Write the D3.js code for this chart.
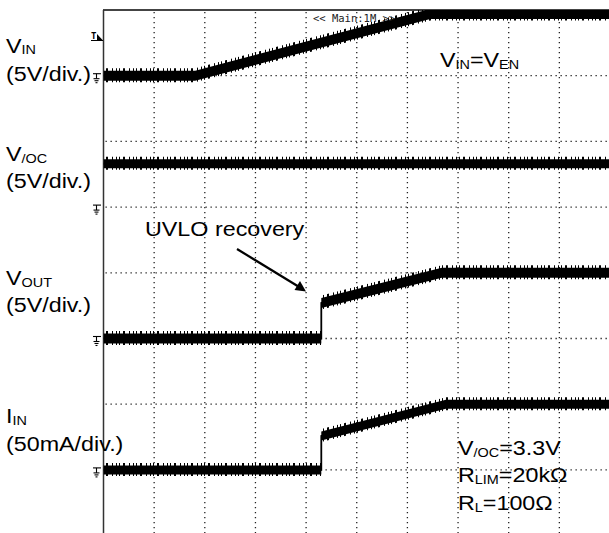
<!DOCTYPE html>
<html>
<head>
<meta charset="utf-8">
<script src="https://cdn.jsdelivr.net/npm/d3@7"></script>
<style>
  html, body { margin: 0; padding: 0; background: #fff; }
  svg { display: block; }
  text { font-family: "Liberation Sans", Arial, sans-serif; fill: #000; }
</style>
</head>
<body>
<svg id="chart" width="609" height="533"></svg>
<script>
// ---- data (time in divisions, values in channel units) ----
const vinT  = [0, 1.81, 6.45, 10];
const vinV  = [0, 0, 4.7, 4.7];          // V
const vocT  = [0, 10];
const vocV  = [3.3, 3.3];                // V
const voutT = [0, 4.30, 4.30, 6.68, 10];
const voutV = [0, 0, 2.7, 5.0, 5.0];     // V
const iinT  = [0, 4.30, 4.30, 6.76, 10];
const iinV  = [0, 0, 25.8, 50, 50];      // mA

const channelNames   = ["VIN", "VOC", "VOUT", "IIN"];
const channelPerDiv  = [5, 5, 5, 50];     // units per division
const channelOffset  = [7, 5, 3, 1];      // ground position in divisions from bottom
const xDivisions = 10, yDivisions = 8;

// ---- layout ----
const svg = d3.select("#chart");
const pLeft = 103.5, pRight = 610, pTop = 10, pBottom = 535.6;
const x = d3.scaleLinear().domain([0, xDivisions]).range([pLeft, pRight]);
const yDiv = d3.scaleLinear().domain([0, yDivisions]).range([pBottom, pTop]);

const defs = svg.append("defs");
defs.append("clipPath").attr("id", "screen")
  .append("rect").attr("x", pLeft).attr("y", pTop).attr("width", pRight - pLeft).attr("height", pBottom - pTop);
const pat = defs.append("pattern").attr("id", "spikes").attr("patternUnits", "userSpaceOnUse")
  .attr("width", 17).attr("height", 5);
[0, 4, 5, 10, 14].forEach(px => pat.append("rect").attr("x", px).attr("y", 0).attr("width", 1).attr("height", 5).attr("fill", "#000"));

// ---- grid ----
const grid = svg.append("g");
d3.range(1, xDivisions).forEach(i => {
  grid.append("line").attr("x1", x(i)).attr("x2", x(i)).attr("y1", pTop + 2).attr("y2", 533)
    .attr("stroke", "#222").attr("stroke-width", 1.3).attr("stroke-dasharray", "1.3 3.7");
});
d3.range(1, yDivisions).forEach(j => {
  grid.append("line").attr("x1", pLeft + 2).attr("x2", 609).attr("y1", yDiv(j)).attr("y2", yDiv(j))
    .attr("stroke", "#222").attr("stroke-width", 1.3).attr("stroke-dasharray", "1.3 3.7");
});

// frame
svg.append("line").attr("x1", pLeft - 0.5).attr("x2", 609).attr("y1", pTop).attr("y2", pTop)
  .attr("stroke", "#444").attr("stroke-width", 2);
svg.append("line").attr("x1", pLeft).attr("x2", pLeft).attr("y1", pTop).attr("y2", 533)
  .attr("stroke", "#333").attr("stroke-width", 1.5);

// ---- traces ----
const series = [
  {t: vinT, v: vinV, ch: 0, half: 5},
  {t: vocT, v: vocV, ch: 1, half: 4.5},
  {t: voutT, v: voutV, ch: 2, half: 5},
  {t: iinT, v: iinV, ch: 3, half: 4.5}
];
const traces = svg.append("g").attr("clip-path", "url(#screen)");
series.forEach(s => {
  const pts = s.t.map((t, i) => ({t, y: yDiv(channelOffset[s.ch] + s.v[i] / channelPerDiv[s.ch])}));
  traces.append("path").datum(pts)
    .attr("d", d3.area().x(d => x(d.t)).y0(d => d.y - s.half - 2.5).y1(d => d.y + s.half + 1.5))
    .attr("fill", "url(#spikes)");
  traces.append("path").datum(pts)
    .attr("d", d3.area().x(d => x(d.t)).y0(d => d.y - s.half).y1(d => d.y + s.half))
    .attr("fill", "#000");
  traces.append("path").datum(pts)
    .attr("d", d3.line().x(d => x(d.t)).y(d => d.y))
    .attr("fill", "none").attr("stroke", "#000").attr("stroke-width", 1.8);
});

// ground markers
channelOffset.forEach(off => {
  const g = svg.append("g").attr("transform", `translate(0,${yDiv(off)})`).attr("stroke", "#000").attr("stroke-width", 1.1);
  g.append("line").attr("x1", 93).attr("x2", 101).attr("y1", -2).attr("y2", -2);
  g.append("line").attr("x1", 96.5).attr("x2", 96.5).attr("y1", -2).attr("y2", 3);
  g.append("line").attr("x1", 93.5).attr("x2", 99.5).attr("y1", 3).attr("y2", 3);
  g.append("line").attr("x1", 94.5).attr("x2", 98.5).attr("y1", 5).attr("y2", 5);
  g.append("line").attr("x1", 95.5).attr("x2", 97.5).attr("y1", 7).attr("y2", 7);
});

// trigger marker
svg.append("text").attr("x", 91).attr("y", 39).attr("font-size", 9).attr("font-weight", "bold")
  .style("font-family", "DejaVu Sans Mono, monospace").text("T");
svg.append("line").attr("x1", 91).attr("x2", 103).attr("y1", 40.5).attr("y2", 40.5).attr("stroke", "#000").attr("stroke-width", 1);
svg.append("path").attr("d", "M97,34 L103,40.5 L97,40.5 Z").attr("fill", "#000");

// Main label
svg.append("text").attr("x", 313).attr("y", 21.5).attr("font-size", 10.5)
  .style("font-family", "DejaVu Sans Mono, monospace").style("fill", "#222")
  .text("<< Main:1M >>");

// ---- labels ----
const FS = 21, SUB = 13, SX = 1.11;
function label(xp, yp, parts) {
  const t = svg.append("text").attr("transform", `translate(${xp},${yp}) scale(${SX},1)`).attr("font-size", FS);
  parts.forEach(p => {
    const ts = t.append("tspan").text(p[0]);
    if (p[1]) ts.attr("font-size", SUB).attr("dy", 1.5);
    else if (p[2]) ts.attr("dy", -1.5);
  });
  return t;
}
label(6, 52.5, [["V"], ["IN", true]]);
label(6, 80.5, [["(5V/div.)"]]);
label(6, 161, [["V"], ["/OC", true]]);
label(6, 187.5, [["(5V/div.)"]]);
label(6, 285, [["V"], ["OUT", true]]);
label(6, 312, [["(5V/div.)"]]);
label(6, 423, [["I"], ["IN", true]]);
label(6, 450.5, [["(50mA/div.)"]]);

label(440, 67, [["V"], ["IN", true], ["=V", false, true], ["EN", true]]);
label(145, 236, [["UVLO recovery"]]);
label(458, 455, [["V"], ["/OC", true], ["=3.3V", false, true]]);
label(458, 482, [["R"], ["LIM", true], ["=20kΩ", false, true]]);
label(458, 510, [["R"], ["L", true], ["=100Ω", false, true]]);

// arrow
svg.append("line").attr("x1", 237).attr("y1", 249).attr("x2", 300).attr("y2", 287.5)
  .attr("stroke", "#000").attr("stroke-width", 2.2);
svg.append("path").attr("d", "M306,291.5 L294.5,290 L300,281 Z").attr("fill", "#000");
</script>
</body>
</html>
